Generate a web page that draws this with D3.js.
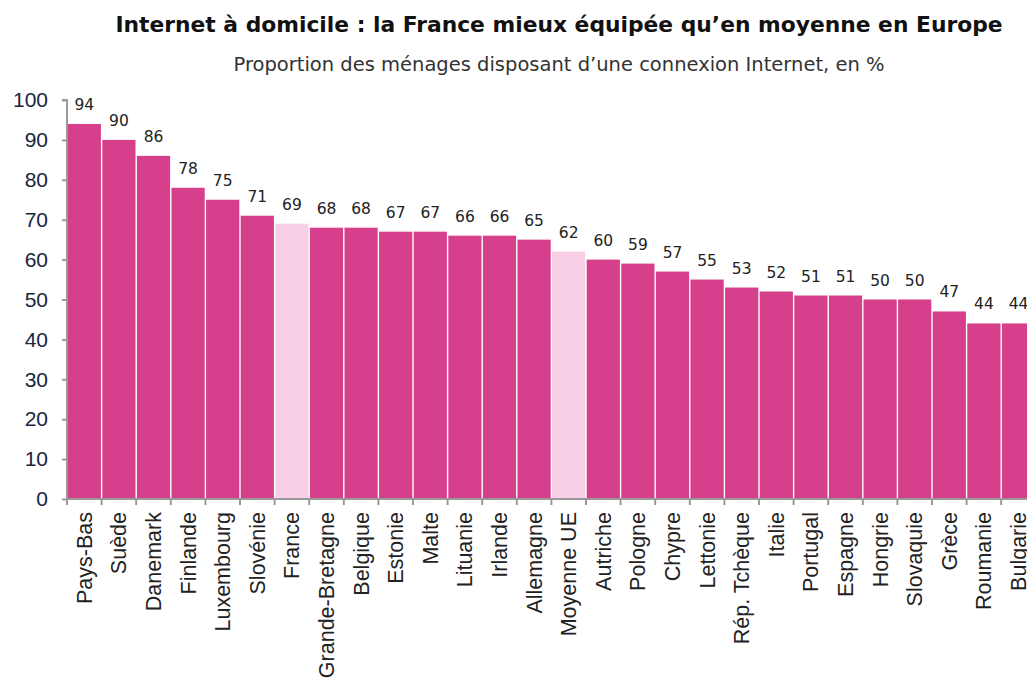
<!DOCTYPE html>
<html lang="fr">
<head>
<meta charset="utf-8">
<title>Internet à domicile</title>
<script src="https://cdn.jsdelivr.net/npm/d3@7"></script>
<style>
  body { margin: 0; background: #fff; }
  svg { display: block; font-family: "DejaVu Sans", Verdana, sans-serif; }
</style>
</head>
<body>
<div id="chart"></div>
<script>
var pays = ["Pays-Bas", "Suède", "Danemark", "Finlande", "Luxembourg", "Slovénie", "France",
  "Grande-Bretagne", "Belgique", "Estonie", "Malte", "Lituanie", "Irlande", "Allemagne",
  "Moyenne UE", "Autriche", "Pologne", "Chypre", "Lettonie", "Rép. Tchèque", "Italie",
  "Portugal", "Espagne", "Hongrie", "Slovaquie", "Grèce", "Roumanie", "Bulgarie"];
var valeurs = [94, 90, 86, 78, 75, 71, 69, 68, 68, 67, 67, 66, 66, 65, 62, 60, 59, 57, 55,
  53, 52, 51, 51, 50, 50, 47, 44, 44];
var enEvidence = ["France", "Moyenne UE"];
var yTicks = [0, 10, 20, 30, 40, 50, 60, 70, 80, 90, 100];

var width = 1027, height = 685;
var margin = {left: 67, top: 100, bottom: 186};

var svg = d3.select("#chart").append("svg")
    .attr("width", width)
    .attr("height", height);

var x = d3.scaleBand()
    .domain(pays)
    .range([margin.left, margin.left + 34.6 * pays.length])
    .paddingInner(0.04)
    .paddingOuter(0.02);

var y = d3.scaleLinear()
    .domain([0, 100])
    .range([height - margin.bottom, margin.top]);

// titre
svg.append("text")
    .attr("x", 559).attr("y", 32)
    .attr("text-anchor", "middle")
    .attr("font-size", 21.8)
    .attr("font-weight", "bold")
    .attr("fill", "#111")
    .text("Internet à domicile : la France mieux équipée qu’en moyenne en Europe");

svg.append("text")
    .attr("x", 559).attr("y", 71)
    .attr("text-anchor", "middle")
    .attr("font-size", 19.5)
    .attr("fill", "#333")
    .text("Proportion des ménages disposant d’une connexion Internet, en %");

// barres
svg.append("g")
  .selectAll("rect")
  .data(pays)
  .enter().append("rect")
    .attr("x", function(d) { return x(d); })
    .attr("y", function(d, i) { return y(valeurs[i]); })
    .attr("width", x.bandwidth())
    .attr("height", function(d, i) { return y(0) - y(valeurs[i]); })
    .attr("fill", function(d) { return enEvidence.includes(d) ? "#f8cfe4" : "#d63f8b"; });

// étiquettes de valeur
svg.append("g")
  .selectAll("text")
  .data(pays)
  .enter().append("text")
    .attr("x", function(d) { return x(d) + x.bandwidth() / 2; })
    .attr("y", function(d, i) { return y(valeurs[i]) - 14; })
    .attr("text-anchor", "middle")
    .attr("font-size", 15.5)
    .attr("fill", "#222")
    .text(function(d, i) { return valeurs[i]; });

// axe y
var yAxis = svg.append("g")
    .attr("transform", "translate(" + margin.left + ",0)")
    .call(d3.axisLeft(y).tickValues(yTicks).tickSize(5).tickPadding(14));
yAxis.selectAll("text").attr("font-size", 21).attr("fill", "#1a2440");

// axe x
var xAxis = svg.append("g")
    .attr("transform", "translate(0," + y(0) + ")")
    .call(d3.axisBottom(x).tickSize(0).tickPadding(0));
xAxis.selectAll("text")
    .attr("font-size", 21.5)
    .attr("fill", "#222")
    .attr("text-anchor", "end")
    .attr("dy", "0.35em")
    .attr("transform", "translate(0,13) rotate(-90)")
    .attr("x", 0).attr("y", 0);

// graduations entre les barres
var bornes = pays.map(function(d) { return x(d) - x.step() * x.paddingInner() / 2; });
bornes.push(x.range()[1]);
xAxis.selectAll(".borne")
  .data(bornes)
  .enter().append("line")
    .attr("x1", function(d) { return d; })
    .attr("x2", function(d) { return d; })
    .attr("y1", 0).attr("y2", 6)
    .attr("stroke", "#999").attr("stroke-width", 2);

svg.selectAll(".domain").attr("stroke", "#999").attr("stroke-width", 2);
svg.selectAll(".tick line").attr("stroke", "#999").attr("stroke-width", 2);
xAxis.select(".domain").attr("d", "M" + margin.left + ",0H" + x.range()[1]);
yAxis.select(".domain").attr("d", "M0," + y(0) + "V" + y(100) + "H-5");
</script>
</body>
</html>
